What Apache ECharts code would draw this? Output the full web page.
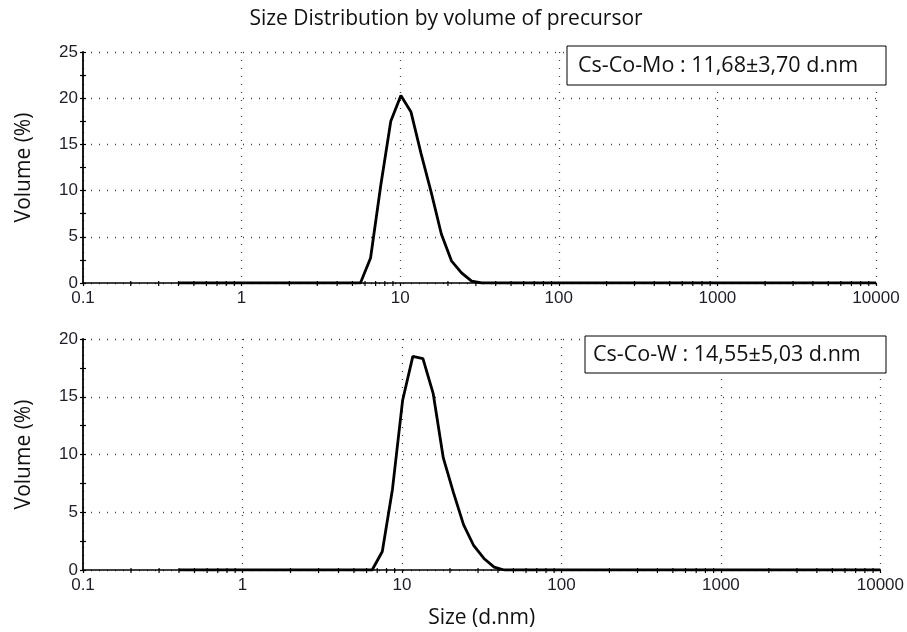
<!DOCTYPE html>
<html><head><meta charset="utf-8">
<script src="https://cdn.jsdelivr.net/npm/echarts@6/dist/echarts.min.js"></script>
<style>html,body{margin:0;padding:0;background:#fff}#c{width:907px;height:632px}</style>
</head><body><div id="c"></div>
<script>
// Size classes (d.nm)
const sizes = [0.4,0.4632,0.5365,0.6213,0.7195,0.8332,0.9649,1.117,1.294,1.499,
  1.736,2.010,2.328,2.696,3.122,3.615,4.187,4.849,5.615,6.503,
  7.531,8.721,10.10,11.70,13.54,15.69,18.17,21.04,24.36,28.21,
  32.67,37.84,43.82,50.75,58.77,68.06,78.82,91.28,105.7,122.4,
  141.8,164.2,190.1,220.2,255.0,295.3,342.0,396.1,458.7,531.2,
  615.1,712.4,825.0,955.4,1106,1281,1484,1718,1990,2305,
  2669,3091,3580,4145,4801,5560,6439,7456,8635,10000];
// Volume (%) – Cs-Co-Mo
const volMo = [0,0,0,0,0,0,0,0,0,0,
  0,0,0,0,0,0,0,0,0,2.7,
  10.5,17.5,20.3,18.5,14.0,9.8,5.3,2.4,1.1,0.2,
  0,0,0,0,0,0,0,0,0,0,
  0,0,0,0,0,0,0,0,0,0,
  0,0,0,0,0,0,0,0,0,0,
  0,0,0,0,0,0,0,0,0,0];
// Volume (%) – Cs-Co-W
const volW = [0,0,0,0,0,0,0,0,0,0,
  0,0,0,0,0,0,0,0,0,0,
  1.6,7.0,14.7,18.5,18.3,15.3,9.7,6.7,3.9,2.1,
  1.0,0.25,0,0,0,0,0,0,0,0,
  0,0,0,0,0,0,0,0,0,0,
  0,0,0,0,0,0,0,0,0,0,
  0,0,0,0,0,0,0,0,0,0];
const xTickLabels = [0.1, 1, 10, 100, 1000, 10000];
const xMinorMultipliers = [2, 3, 4, 5, 6, 7, 8, 9];
const yTicksTop = [0, 5, 10, 15, 20, 25];
const yTicksBottom = [0, 5, 10, 15, 20];
const titleText = 'Size Distribution by volume of precursor';
const labelMo = 'Cs-Co-Mo : 11,68\u00b13,70 d.nm';
const labelW = 'Cs-Co-W : 14,55\u00b15,03 d.nm';
const xName = 'Size (d.nm)';
const yName = 'Volume (%)';

// minor tick positions on the log axis (2..9 × each decade)
const xMinorTicks = [];
for (let i = 0; i < xTickLabels.length - 1; i++) {
  xMinorMultipliers.forEach(k => xMinorTicks.push(+(xTickLabels[i] * k).toPrecision(6)));
}

const TXT = '#1e1e28';
const labFont = 'Liberation Sans';
const nameFont = 'Open Sans';

function fmtX(v) {
  let best = xTickLabels[0];
  xTickLabels.forEach(t => { if (Math.abs(Math.log10(t) - Math.log10(v)) < Math.abs(Math.log10(best) - Math.log10(v))) best = t; });
  return String(best);
}
function mainX(g, withName) {
  const a = {
    type: 'log', logBase: 10, gridIndex: g, position: 'bottom', min: 0.1, max: 10000,
    axisLine: { show: true, onZero: false, lineStyle: { color: '#000', width: 1.5 } },
    axisTick: { show: true, inside: false, length: 3, lineStyle: { color: '#000', width: 1.2 } },
    axisLabel: { show: true, formatter: fmtX, color: TXT, fontFamily: labFont, fontSize: 17, margin: 7 },
    splitLine: { show: true, lineStyle: { type: [1, 7], color: '#444', width: 1.3 } }
  };
  if (withName) {
    a.name = xName; a.nameLocation = 'middle'; a.nameGap = 38;
    a.nameTextStyle = { fontFamily: nameFont, fontSize: 21, color: '#111' };
  }
  return a;
}
function mainY(g, ticks) {
  return {
    type: 'value', gridIndex: g, position: 'left', min: ticks[0], max: ticks[ticks.length - 1], interval: 5,
    axisLine: { show: true, onZero: false, lineStyle: { color: '#000', width: 1.8 } },
    axisTick: { show: true, inside: false, length: 3, lineStyle: { color: '#000', width: 1.2 } },
    minorTick: { show: true, splitNumber: 2, length: 3, lineStyle: { color: '#000', width: 1.2 } },
    axisLabel: { color: TXT, fontFamily: labFont, fontSize: 17, margin: 5 },
    splitLine: { show: true, lineStyle: { type: [1, 7], color: '#444', width: 1.3 } },
    name: yName, nameLocation: 'middle', nameGap: 48,
    nameTextStyle: { fontFamily: nameFont, fontSize: 21, color: '#111' }
  };
}
function overlayY(g, ticks) {
  return {
    type: 'value', gridIndex: g, position: 'left', min: ticks[0], max: ticks[ticks.length - 1], interval: 5,
    axisLine: { show: false, onZero: false },
    axisTick: { show: true, inside: true, length: 3, lineStyle: { color: '#000', width: 1.2 } },
    minorTick: { show: true, splitNumber: 2, length: 3, lineStyle: { color: '#000', width: 1.2 } },
    axisLabel: { show: false },
    splitLine: { show: false }
  };
}
function minorTickSeries(xi, yi) {
  return {
    type: 'custom', xAxisIndex: xi, yAxisIndex: yi, clip: false, silent: true, z: 6,
    data: xMinorTicks.map(v => [v, 0]),
    renderItem: function (params, api) {
      const p = api.coord([api.value(0), 0]);
      return { type: 'line', shape: { x1: p[0], y1: p[1] - 2, x2: p[0], y2: p[1] + 3 },
        style: { stroke: '#000', lineWidth: 1.2 } };
    }
  };
}

const chart = echarts.init(document.getElementById('c'), null, { renderer: 'canvas' });
chart.setOption({
  animation: false,
  backgroundColor: '#fff',
  grid: [
    { left: 83, top: 52, width: 793, height: 231 },
    { left: 83, top: 339, width: 800, height: 231 }
  ],
  xAxis: [mainX(0, false), mainX(1, true)],
  yAxis: [mainY(0, yTicksTop), overlayY(0, yTicksTop), mainY(1, yTicksBottom), overlayY(1, yTicksBottom)],
  series: [
    { type: 'line', xAxisIndex: 0, yAxisIndex: 0, showSymbol: false, z: 5,
      lineStyle: { color: '#000', width: 2.8 }, data: sizes.map((s, i) => [s, volMo[i]]) },
    { type: 'line', xAxisIndex: 1, yAxisIndex: 2, showSymbol: false, z: 5,
      lineStyle: { color: '#000', width: 2.8 }, data: sizes.map((s, i) => [s, volW[i]]) },
    minorTickSeries(0, 0),
    minorTickSeries(1, 2)
  ],
  graphic: [
    { type: 'text', x: 446, y: 19, z: 100,
      style: { text: titleText, fill: '#111', font: '21px "Open Sans"', textAlign: 'center', textVerticalAlign: 'middle' } },
    { type: 'rect', z: 100, shape: { x: 567, y: 46, width: 319, height: 39 },
      style: { fill: '#fff', stroke: '#000', lineWidth: 1 } },
    { type: 'text', z: 101, x: 578, y: 66,
      style: { text: labelMo, fill: '#111', font: '21.5px "Open Sans"', textAlign: 'left', textVerticalAlign: 'middle' } },
    { type: 'rect', z: 100, shape: { x: 585, y: 336, width: 301, height: 37 },
      style: { fill: '#fff', stroke: '#000', lineWidth: 1 } },
    { type: 'text', z: 101, x: 593, y: 355,
      style: { text: labelW, fill: '#111', font: '21.5px "Open Sans"', textAlign: 'left', textVerticalAlign: 'middle' } }
  ]
});
</script></body></html>
